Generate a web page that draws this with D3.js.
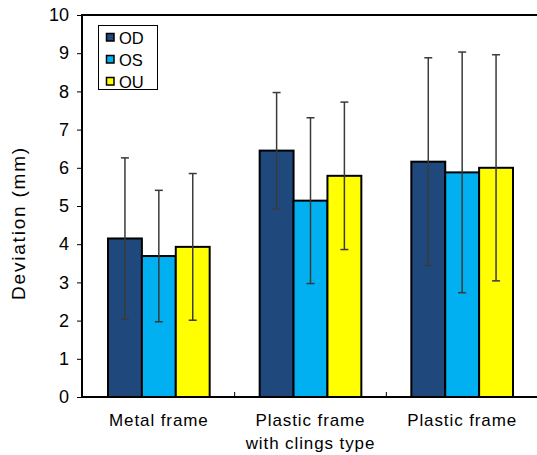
<!DOCTYPE html>
<html>
<head>
<meta charset="utf-8">
<script src="https://cdn.jsdelivr.net/npm/d3@7"></script>
<style>
  body { margin: 0; background: #fff; }
  svg { display: block; font-family: "Liberation Sans", Arial, sans-serif; }
</style>
</head>
<body>
<svg width="537" height="455"></svg>
<script>
// Data
var categories = [["Metal frame"], ["Plastic frame", "with clings type"], ["Plastic frame"]];
var series = ["OD", "OS", "OU"];
var colors = ["#1f497d", "#00b0f0", "#ffff00"];
var means = [
  [4.15, 3.69, 3.93],
  [6.45, 5.14, 5.79],
  [6.16, 5.88, 6.00]
];
var sds = [
  [2.11, 1.72, 1.92],
  [1.52, 2.17, 1.93],
  [2.72, 3.15, 2.96]
];
var yTicks = [0, 1, 2, 3, 4, 5, 6, 7, 8, 9, 10];

var svg = d3.select("svg");
// plot box (note: "top" is taken by window.top)
var plotLeft = 82, plotTop = 15, plotBottom = 397, plotRight = 538;

// Scales
var x0 = d3.scaleBand()
  .domain(d3.range(categories.length))
  .range([plotLeft + 1, plotRight]);
var x1 = d3.scaleBand()
  .domain(series)
  .range([25, x0.bandwidth() - 25]);
var y = d3.scaleLinear().domain([0, 10]).range([plotBottom, plotTop]);

// Bars
var groups = svg.append("g")
  .selectAll("g")
  .data(means)
  .enter()
  .append("g")
  .attr("transform", function(d, i) { return "translate(" + x0(i) + ",0)"; });

groups.selectAll("rect")
  .data(function(d) { return d; })
  .enter()
  .append("rect")
  .attr("x", function(d, j) { return x1(series[j]); })
  .attr("y", function(d) { return y(d); })
  .attr("width", x1.bandwidth())
  .attr("height", function(d) { return y(0) - y(d); })
  .attr("fill", function(d, j) { return colors[j]; })
  .attr("stroke", "#000")
  .attr("stroke-width", 2);

// Error bars
groups.each(function(d, i) {
  var g = d3.select(this);
  d.forEach(function(m, j) {
    var cx = x1(series[j]) + x1.bandwidth() / 2;
    var hi = y(m + sds[i][j]), lo = y(m - sds[i][j]);
    g.append("line").attr("x1", cx).attr("x2", cx).attr("y1", hi).attr("y2", lo);
    g.append("line").attr("x1", cx - 4).attr("x2", cx + 4).attr("y1", hi).attr("y2", hi);
    g.append("line").attr("x1", cx - 4).attr("x2", cx + 4).attr("y1", lo).attr("y2", lo);
  });
  g.selectAll("line").attr("stroke", "#3a3a3a").attr("stroke-width", 1.5);
});

// Y axis
var yAxis = svg.append("g")
  .attr("transform", "translate(" + plotLeft + ",0)")
  .call(d3.axisLeft(y).tickValues(yTicks).tickSize(5).tickPadding(8).tickFormat(d3.format("d")));
yAxis.select(".domain").remove();
yAxis.selectAll(".tick line").attr("stroke", "#000");
yAxis.selectAll("text").attr("font-size", 18).attr("fill", "#000");

// Frame lines
svg.append("line").attr("x1", plotLeft).attr("x2", plotLeft).attr("y1", plotTop).attr("y2", plotBottom + 1)
  .attr("stroke", "#000").attr("stroke-width", 2);
svg.append("line").attr("x1", plotLeft - 1).attr("x2", 537).attr("y1", plotTop).attr("y2", plotTop)
  .attr("stroke", "#000").attr("stroke-width", 2);
svg.append("line").attr("x1", plotLeft - 1).attr("x2", 537).attr("y1", plotBottom).attr("y2", plotBottom)
  .attr("stroke", "#000").attr("stroke-width", 2);

// Category separators
svg.append("g").selectAll("line")
  .data(d3.range(1, categories.length))
  .enter()
  .append("line")
  .attr("x1", function(i) { return x0(i); })
  .attr("x2", function(i) { return x0(i); })
  .attr("y1", plotBottom)
  .attr("y2", plotBottom - 5)
  .attr("stroke", "#000");

// Category labels
var labels = svg.append("g")
  .selectAll("text")
  .data(categories)
  .enter()
  .append("text")
  .attr("x", function(d, i) { return x0(i) + x0.bandwidth() / 2; })
  .attr("y", 426)
  .attr("text-anchor", "middle")
  .attr("font-size", 17)
  .attr("letter-spacing", 0.9)
  .attr("fill", "#000");
labels.selectAll("tspan")
  .data(function(d) { return d; })
  .enter()
  .append("tspan")
  .attr("x", function() { return d3.select(this.parentNode).attr("x"); })
  .attr("dy", function(d, k) { return k ? 23 : 0; })
  .text(function(d) { return d; });

// Y label
svg.append("text")
  .attr("transform", "translate(25,223) rotate(-90)")
  .attr("text-anchor", "middle")
  .attr("font-size", 19)
  .attr("letter-spacing", 1.8)
  .attr("fill", "#000")
  .text("Deviation (mm)");

// Legend
var legend = svg.append("g");
legend.append("rect")
  .attr("x", 98.5).attr("y", 25.5).attr("width", 59).attr("height", 64)
  .attr("fill", "#fff").attr("stroke", "#000").attr("stroke-width", 1);
var items = legend.selectAll("g.item")
  .data(series)
  .enter()
  .append("g")
  .attr("class", "item")
  .attr("transform", function(d, j) { return "translate(106," + (37 + j * 22) + ")"; });
items.append("rect")
  .attr("x", 0.5).attr("y", -3.5).attr("width", 7.5).attr("height", 7.5)
  .attr("fill", function(d, j) { return colors[j]; })
  .attr("stroke", "#000").attr("stroke-width", 1.5);
items.append("text")
  .attr("x", 13).attr("y", 6.5)
  .attr("font-size", 16.5)
  .attr("fill", "#000")
  .text(function(d) { return d; });
</script>
</body>
</html>
